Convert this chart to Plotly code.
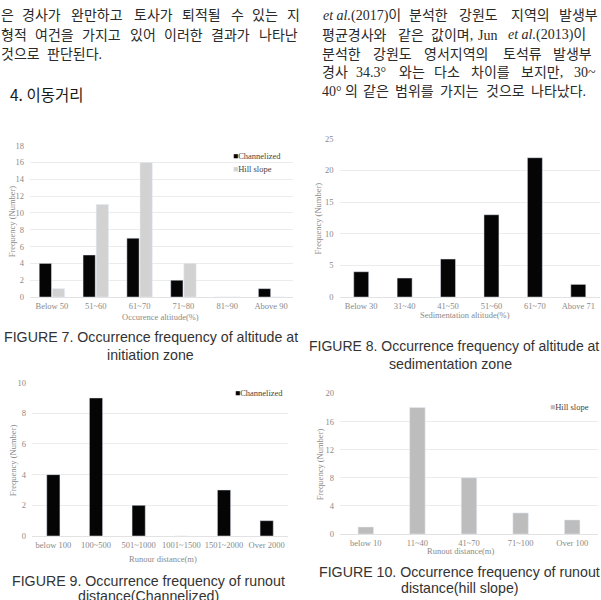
import re
import plotly.graph_objects as go

# ---------------- data ----------------
init_cats = ["Below 50", "51~60", "61~70", "71~80", "81~90", "Above 90"]
init_channelized = [4, 5, 7, 2, 0, 1]
init_hillslope = [1, 11, 16, 4, 0, 0]

sed_cats = ["Below 30", "31~40", "41~50", "51~60", "61~70", "Above 71"]
sed_counts = [4, 3, 6, 13, 22, 2]

run_ch_cats = ["below 100", "100~500", "501~1000", "1001~1500", "1501~2000", "Over 2000"]
run_ch_counts = [4, 9, 2, 0, 3, 1]

run_hs_cats = ["below 10", "11~40", "41~70", "71~100", "Over 100"]
run_hs_counts = [1, 18, 8, 3, 2]

# body text (page text around the figures), word by word
left_lines = [
    ["은", "경사가", "완만하고", "토사가", "퇴적될", "수", "있는", "지"],
    ["형적", "여건을", "가지고", "있어", "이러한", "결과가", "나타난"],
    ["것으로", "판단된다."],
]
right_lines = [
    ["<i>et al.</i>(2017)이", "분석한", "강원도", "지역의", "발생부"],
    ["평균경사와", "같은", "값이며,", "Jun", "<i>et al.</i>(2013)이"],
    ["분석한", "강원도", "영서지역의", "토석류", "발생부"],
    ["경사", "34.3°", "와는", "다소", "차이를", "보지만,", "30~"],
    ["40°", "의", "같은", "범위를", "가지는", "것으로", "나타났다."],
]
section_title = "4. 이동거리"

W, H = 601, 600
def X(px):
    return px / W
def Y(py):
    return 1 - py / H

BLACK = "#050505"
LIGHT = "#d2d2d2"
MID = "#bdbdbd"
GRID = "#ececec"
TICK = "#8a8a8a"
SERIF = "Liberation Serif, DejaVu Serif, serif"
SANS = "Liberation Sans, Arial, sans-serif"
KFONT = "Liberation Serif, Noto Sans CJK KR, serif"
BODY = 14

# approximate advance widths (em) for laying out justified words
LAT = {"0": .5, "1": .5, "2": .5, "3": .5, "4": .5, "7": .5, ".": .25, ",": .25,
       "(": .333, ")": .333, "°": .4, "~": .541, "e": .444, "t": .278, "a": .444,
       "l": .278, " ": .25, "J": .389, "u": .5, "n": .5}
def word_w(w, size):
    s = re.sub(r"<[^>]+>", "", w)
    return size * sum(1.0 if "\uac00" <= c <= "\ud7a3" else LAT.get(c, .5) for c in s)

def justify(words, x0, x1, size):
    widths = [word_w(w, size) for w in words]
    gap = (x1 - x0 - sum(widths)) / max(len(words) - 1, 1)
    xs, x = [], x0
    for wd in widths:
        xs.append(x)
        x += wd + gap
    return xs

def natural(words, x0, size, gap=4.0):
    xs, x = [], x0
    for w in words:
        xs.append(x)
        x += word_w(w, size) + gap
    return xs

left_word_x = [justify(left_lines[0], 0, 300, BODY),
               justify(left_lines[1], 0, 300, BODY),
               natural(left_lines[2], 0, BODY)]
right_word_x = [
    [322, 408, 458, 510, 558],
    [321, 397, 430, 477, 507],
    [321, 372, 423, 502, 552],
    [321, 355, 398, 433, 470, 520, 573],
    justify(right_lines[4], 321, 590, BODY),
]
left_line_y = [11, 31, 50]
right_line_y = [11, 31, 50, 69, 88]

fig = go.Figure()
fig.add_trace(go.Bar(x=init_cats, y=init_channelized, name="Channelized", marker_color=BLACK,
                     width=0.28, offset=-0.29, xaxis="x", yaxis="y", showlegend=False))
fig.add_trace(go.Bar(x=init_cats, y=init_hillslope, name="Hill slope", marker_color=LIGHT,
                     width=0.28, offset=0.01, xaxis="x", yaxis="y", showlegend=False))
fig.add_trace(go.Bar(x=sed_cats, y=sed_counts, name="Sedimentation", marker_color=BLACK,
                     width=0.345, xaxis="x2", yaxis="y2", showlegend=False))
fig.add_trace(go.Bar(x=run_ch_cats, y=run_ch_counts, name="Channelized", marker_color=BLACK,
                     width=0.31, xaxis="x3", yaxis="y3", showlegend=False))
fig.add_trace(go.Bar(x=run_hs_cats, y=run_hs_counts, name="Hill slope", marker_color=MID,
                     width=0.30, xaxis="x4", yaxis="y4", showlegend=False))

def xax(dom, anchor):
    return dict(domain=[X(dom[0]), X(dom[1])], anchor=anchor, type="category",
                tickangle=0, showgrid=False, showline=False, ticks="",
                ticklabelstandoff=2,
                tickfont=dict(family=SERIF, size=8.5, color=TICK), fixedrange=True)

def yax(top, bottom, rng, dtick, anchor):
    return dict(domain=[Y(bottom), Y(top)], anchor=anchor, range=rng, dtick=dtick,
                showgrid=True, gridcolor=GRID, gridwidth=1, zeroline=True,
                zerolinecolor="#e2e2e2", zerolinewidth=1, showline=False, ticks="",
                ticklabelstandoff=5,
                tickfont=dict(family=SERIF, size=8.5, color=TICK), fixedrange=True)

layout = dict(
    width=W, height=H, margin=dict(l=0, r=0, t=0, b=0),
    paper_bgcolor="white", plot_bgcolor="white", barmode="overlay", showlegend=False,
    xaxis=xax((30, 293), "y"), yaxis=yax(143, 297, [0, 18], 2, "x"),
    xaxis2=xax((339.5, 600), "y2"), yaxis2=yax(136, 297, [0, 25], 5, "x2"),
    xaxis3=xax((32, 288), "y3"), yaxis3=yax(384, 540, [0, 10], 2, "x3"),
    xaxis4=xax((340, 598), "y4"), yaxis4=yax(395, 538, [0, 20], 4, "x4"),
)
fig.update_layout(**layout)

ann = []
def text(t, x, y, size, family, color="#222", xanchor="left", angle=0):
    ann.append(dict(text=t, x=X(x), y=Y(y), xref="paper", yref="paper", showarrow=False,
                    xanchor=xanchor, yanchor="middle", textangle=angle,
                    font=dict(size=size, family=family, color=color), borderpad=0))

# body text
for words, xs, y in zip(left_lines, left_word_x, left_line_y):
    for w, x in zip(words, xs):
        text(w, x, y, BODY, KFONT, "#2a2a2a")
for words, xs, y in zip(right_lines, right_word_x, right_line_y):
    for w, x in zip(words, xs):
        text(w, x, y, BODY, KFONT, "#2a2a2a")
text(section_title, 9, 91, 15.5, "Noto Sans CJK KR, sans-serif", "#1a1a1a")

# axis titles
for x, y in [(12, 220), (318, 217), (13, 463), (320, 467)]:
    text("Frequency (Number)", x, y, 8.5, SERIF, TICK, "center", -90)
text("Occurence altitude(%)", 160, 317, 8.5, SERIF, TICK, "center")
text("Sedimentation altitude(%)", 465, 315, 8.5, SERIF, TICK, "center")
text("Runour distance(m)", 163, 563, 8.5, SERIF, TICK, "center")
text("Runout distance(m)", 460, 555, 8.5, SERIF, TICK, "center")

# legends
text(f"<span style='color:{BLACK}'>■</span>Channelized", 232, 154, 8.5, SERIF, "#444")
text(f"<span style='color:{LIGHT}'>■</span>Hill slope", 232, 167, 8.5, SERIF, "#444")
text(f"<span style='color:{BLACK}'>■</span>Channelized", 234, 395, 8.5, SERIF, "#444")
text(f"<span style='color:{MID}'>■</span>Hill slope", 549, 409, 8.5, SERIF, "#444")

# captions
CAP = "#333"
CS = 14.2
text("FIGURE 7. Occurrence frequency of altitude at", 151, 338, CS, SANS, CAP, "center")
text("initiation zone", 150, 356, CS, SANS, CAP, "center")
text("FIGURE 8. Occurrence frequency of altitude at", 308, 347, 14.0, SANS, CAP, "left")
text("sedimentation zone", 450, 365, CS, SANS, CAP, "center")
text("FIGURE 9. Occurrence frequency of runout", 148, 586, CS, SANS, CAP, "center")
text("distance(Channelized)", 148, 601, CS, SANS, CAP, "center")
text("FIGURE 10. Occurrence frequency of runout", 459, 577, CS, SANS, CAP, "center")
text("distance(hill slope)", 460, 593, CS, SANS, CAP, "center")

fig.update_layout(annotations=ann)
fig.write_html("out.html")
